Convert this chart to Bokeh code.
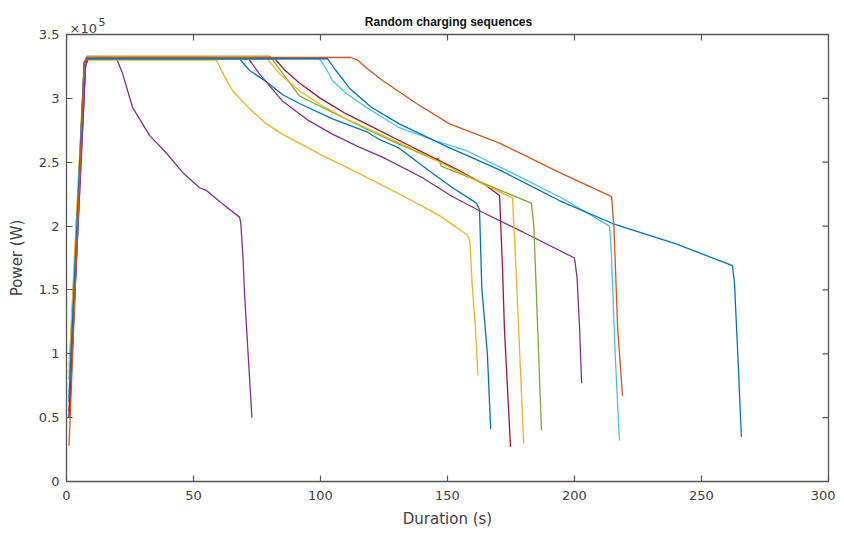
import math
from bokeh.plotting import figure
from bokeh.models import Range1d, FixedTicker, Label
from bokeh.embed import file_html
from bokeh.resources import INLINE

# Duration (s) and Power (x 1e5 W) for each charging sequence
s1_t = [1, 7.5, 8.5, 19.7, 22, 26, 32.7, 39.4, 45.7, 52.4, 55, 61, 68.1, 68.6, 69.5, 70.1, 71.5, 73]
s1_p = [0.5, 3.25, 3.31, 3.31, 3.20, 2.93, 2.71, 2.57, 2.42, 2.30, 2.28, 2.18, 2.07, 2.03, 1.75, 1.47, 1.0, 0.50]

s2_t = [1, 7, 8, 59, 62, 65.4, 72, 78.7, 85, 91.7, 100, 111.4, 123.2, 135, 147, 157.9, 158.8, 159.8, 161, 162]
s2_p = [0.85, 3.28, 3.30, 3.30, 3.18, 3.06, 2.92, 2.80, 2.72, 2.65, 2.56, 2.45, 2.33, 2.21, 2.08, 1.93, 1.88, 1.52, 1.20, 0.83]

s3_t = [1, 7, 8, 68.1, 72, 78.7, 85, 91.7, 104.7, 118, 123, 131, 143, 152, 161.4, 162.6, 163.5, 165.7, 167]
s3_p = [0.62, 3.28, 3.31, 3.31, 3.22, 3.13, 3.03, 2.96, 2.84, 2.74, 2.68, 2.61, 2.43, 2.30, 2.18, 2.13, 1.52, 1.0, 0.41]

s4_t = [1, 7.5, 8.5, 71.7, 76, 85, 95, 104.7, 115, 124.4, 140, 152, 153, 162.6, 180, 200, 201, 202, 202.8]
s4_p = [0.5, 3.26, 3.31, 3.31, 3.19, 2.98, 2.83, 2.72, 2.62, 2.54, 2.38, 2.23, 2.22, 2.12, 1.95, 1.75, 1.60, 1.2, 0.77]

s5_t = [1, 7, 8, 80, 85, 91.7, 99.6, 111, 118, 130, 145, 146.5, 147.5, 160, 172, 183, 184, 185.5, 187]
s5_p = [0.8, 3.28, 3.33, 3.33, 3.20, 3.02, 2.94, 2.83, 2.76, 2.65, 2.52, 2.53, 2.47, 2.37, 2.27, 2.18, 2.0, 1.2, 0.40]

s6_t = [1, 7, 8, 82, 86, 91.7, 100, 110, 118, 130, 144, 155, 165, 170.5, 171.7, 172.4, 174.8]
s6_p = [0.55, 3.27, 3.31, 3.31, 3.22, 3.12, 3.00, 2.88, 2.80, 2.68, 2.54, 2.43, 2.32, 2.24, 1.65, 1.2, 0.27]

s7_t = [1, 7, 8, 79, 84, 91.7, 100, 110, 118, 130, 144, 155, 165, 175.6, 177, 178, 180]
s7_p = [0.9, 3.29, 3.31, 3.31, 3.19, 3.06, 2.95, 2.84, 2.77, 2.66, 2.53, 2.42, 2.32, 2.22, 1.65, 1.2, 0.30]

s8_t = [1, 7, 8, 99.6, 102, 104.7, 110, 118, 131, 145, 157.5, 175, 195, 213.8, 214.5, 216, 217.7]
s8_p = [0.7, 3.28, 3.31, 3.31, 3.24, 3.14, 3.04, 2.93, 2.77, 2.67, 2.59, 2.42, 2.22, 2.00, 1.80, 1.0, 0.32]

s9_t = [1, 7, 8, 102.8, 106, 111.4, 120, 131, 150, 170.5, 194, 215, 240, 262.2, 263, 264.5, 265.7]
s9_p = [0.65, 3.28, 3.31, 3.31, 3.22, 3.08, 2.93, 2.80, 2.62, 2.44, 2.20, 2.02, 1.86, 1.69, 1.55, 0.9, 0.35]

s10_t = [1, 7, 8, 112, 114.6, 118, 124.4, 137.8, 150.8, 170.5, 194, 214.6, 215.5, 217, 218.9]
s10_p = [0.28, 3.28, 3.32, 3.32, 3.30, 3.24, 3.14, 2.96, 2.80, 2.65, 2.42, 2.23, 2.0, 1.2, 0.67]

series = [
    (s1_t, s1_p, "#7E2F8E"),
    (s2_t, s2_p, "#EDB120"),
    (s3_t, s3_p, "#0072BD"),
    (s4_t, s4_p, "#7E2F8E"),
    (s5_t, s5_p, "#77AC30"),
    (s6_t, s6_p, "#A2142F"),
    (s7_t, s7_p, "#EDB120"),
    (s8_t, s8_p, "#4DBEEE"),
    (s9_t, s9_p, "#0072BD"),
    (s10_t, s10_p, "#D95319"),
]

x_ticks = [0, 50, 100, 150, 200, 250, 300]
y_ticks = [0, 0.5, 1, 1.5, 2, 2.5, 3, 3.5]
y_tick_labels = ["0", "0.5", "1", "1.5", "2", "2.5", "3", "3.5"]
X_MAX = 300
Y_MAX = 3.5
TITLE = "Random charging sequences"
EXP_BASE = "×10"
EXP_POWER = "5"

FONT = "DejaVu Sans"
TFONT = "Liberation Sans"
AX = "#555555"
TXT = "#404040"

p = figure(output_backend="svg", toolbar_location=None,
           x_range=Range1d(0, X_MAX), y_range=Range1d(0, Y_MAX))
try:
    p.title = None
except Exception:
    p.title.text = ""
p.frame_width = 762
p.frame_height = 447
p.min_border_left = 66
p.min_border_right = 7
p.min_border_top = 34
p.min_border_bottom = 56
p.background_fill_color = "white"
p.border_fill_color = "white"
p.outline_line_color = AX
p.outline_line_width = 1.3
p.grid.visible = False

for t, pw, c in series:
    p.line(t, pw, line_color=c, line_width=1.3)

def style_axis(ax):
    ax.axis_line_color = None
    ax.major_tick_line_color = AX
    ax.major_tick_line_width = 1.2
    ax.major_tick_in = 6
    ax.major_tick_out = 0
    ax.minor_tick_line_color = None
    ax.major_label_text_font = FONT
    ax.major_label_text_font_size = "13px"
    ax.major_label_text_color = TXT
    ax.axis_label_text_font = FONT
    ax.axis_label_text_font_size = "15px"
    ax.axis_label_text_font_style = "normal"
    ax.axis_label_text_color = TXT

xa = p.xaxis[0]
xa.ticker = FixedTicker(ticks=x_ticks)
xa.axis_label = "Duration (s)"
style_axis(xa)
xa.major_label_standoff = 9
xa.axis_label_standoff = 7

ya = p.yaxis[0]
ya.ticker = FixedTicker(ticks=y_ticks)
ya.major_label_overrides = {v: s for v, s in zip(y_ticks, y_tick_labels)}
ya.axis_label = "Power (W)"
style_axis(ya)
ya.major_label_standoff = 7
ya.axis_label_standoff = 10

# inward ticks on the top and right edges of the box
p.ray(x=x_ticks, y=[Y_MAX] * len(x_ticks), length=6, length_units="screen",
      angle=-math.pi / 2, line_color=AX, line_width=1.2)
p.ray(x=[X_MAX] * len(y_ticks), y=y_ticks, length=6, length_units="screen",
      angle=math.pi, line_color=AX, line_width=1.2)

# texts outside the frame live in side panels so they are not clipped
p.add_layout(Label(x=69, y=28, x_units="canvas", y_units="canvas", text=EXP_BASE,
                   text_font=FONT, text_font_size="13px", text_color=TXT,
                   text_baseline="alphabetic", text_align="left"), "above")
p.add_layout(Label(x=448, y=21, x_units="canvas", y_units="canvas", text=TITLE,
                   text_font=TFONT, text_font_size="12px", text_font_style="bold",
                   text_color="#111111",
                   text_baseline="alphabetic", text_align="center"), "above")
p.add_layout(Label(x=98, y=21, x_units="canvas", y_units="canvas", text=EXP_POWER,
                   text_font=FONT, text_font_size="11px", text_color=TXT,
                   text_baseline="alphabetic", text_align="left"), "right")

open("out.html", "w").write(file_html(p, INLINE))
